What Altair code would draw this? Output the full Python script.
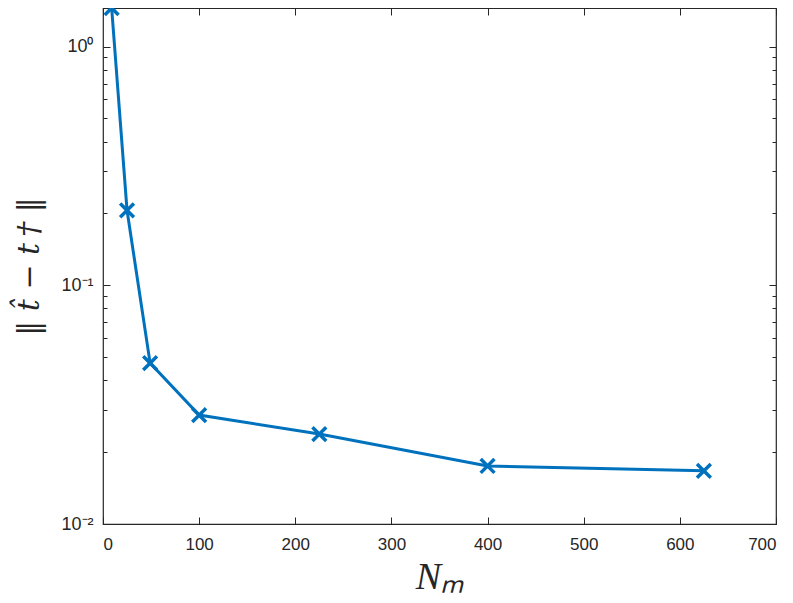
import altair as alt
import pandas as pd

n_m = [9, 25, 49, 100, 225, 400, 625]
err = [1.45, 0.206, 0.0472, 0.0286, 0.0238, 0.0175, 0.0167]
x_ticks = [0, 100, 200, 300, 400, 500, 600, 700]
y_ticks = [k * 10.0 ** e for e in (-2, -1) for k in range(1, 10)] + [1.0]

df = pd.DataFrame({"n": n_m, "e": err})

W, H = 673, 516
AX = "#262626"
BLUE = "#0072BD"
FONT = "Liberation Sans"

xs = alt.Scale(domain=[0, 700], nice=False, zero=False)
ys = alt.Scale(type="log", domain=[0.01, 1.45], nice=False)

major_test = "datum.value==1 || abs(datum.value-0.1)<1e-9 || abs(datum.value-0.01)<1e-9"
lbl = ("datum.value==1 ? '10⁰' : abs(datum.value-0.1)<1e-9 ? '10⁻¹' : "
       "abs(datum.value-0.01)<1e-9 ? '10⁻²' : ''")
ysize = {"condition": {"test": major_test, "value": 7}, "value": 4}

base = alt.Chart(df)

line = base.mark_line(color=BLUE, strokeWidth=3, clip=False).encode(
    x=alt.X("n:Q", scale=xs, axis=alt.Axis(
        values=x_ticks, ticks=False, domain=False, grid=False,
        labelFont=FONT, labelFontSize=17, labelColor=AX, labelPadding=12,
        title="Nₘ", titleFont="Liberation Serif", titleFontStyle="italic",
        titleFontWeight="normal", titleFontSize=38, titleColor=AX, titlePadding=6)),
    y=alt.Y("e:Q", scale=ys, axis=alt.Axis(
        values=y_ticks, labelExpr=lbl, ticks=False, domain=False, grid=False,
        labelFont=FONT, labelFontSize=18, labelColor=AX, labelPadding=10,
        title="‖ t̂  −  t\u2009† ‖", titleFont="DejaVu Serif", titleFontStyle="italic",
        titleFontWeight="normal", titleFontSize=30, titleColor=AX, titlePadding=16)),
)
pts = base.mark_point(
    shape="M-1,-1L1,1M-1,1L1,-1", size=190, filled=False, stroke=BLUE,
    strokeWidth=3.5, opacity=1, clip=False,
).encode(x=alt.X("n:Q", scale=xs), y=alt.Y("e:Q", scale=ys))

data_layer = alt.layer(line, pts)

tick_a = base.mark_point(opacity=0).encode(
    x=alt.X("n:Q", scale=xs, axis=alt.Axis(
        orient="top", offset=-H, values=x_ticks, labels=False, domain=False,
        grid=False, tickSize=7, tickColor=AX, tickWidth=1, title=None)),
    y=alt.Y("e:Q", scale=ys, axis=alt.Axis(
        orient="right", offset=-W, values=y_ticks, labels=False, domain=False,
        grid=False, tickSize=ysize, tickColor=AX, tickWidth=1, title=None)),
)
tick_b = base.mark_point(opacity=0).encode(
    x=alt.X("n:Q", scale=xs, axis=alt.Axis(
        orient="bottom", offset=-H, values=x_ticks, labels=False, domain=False,
        grid=False, tickSize=7, tickColor=AX, tickWidth=1, title=None)),
    y=alt.Y("e:Q", scale=ys, axis=alt.Axis(
        orient="left", offset=-W, values=y_ticks, labels=False, domain=False,
        grid=False, tickSize=ysize, tickColor=AX, tickWidth=1, title=None)),
)

chart = alt.layer(data_layer, tick_a, tick_b).resolve_scale(
    x="independent", y="independent"
).properties(
    width=W, height=H,
    autosize=alt.AutoSizeParams(type="none"),
    padding={"left": 95, "top": 0, "right": 9, "bottom": 79},
).configure_view(stroke=AX, strokeWidth=1.2)

chart.save("out.html", embed_options={"renderer": "svg", "actions": False})
